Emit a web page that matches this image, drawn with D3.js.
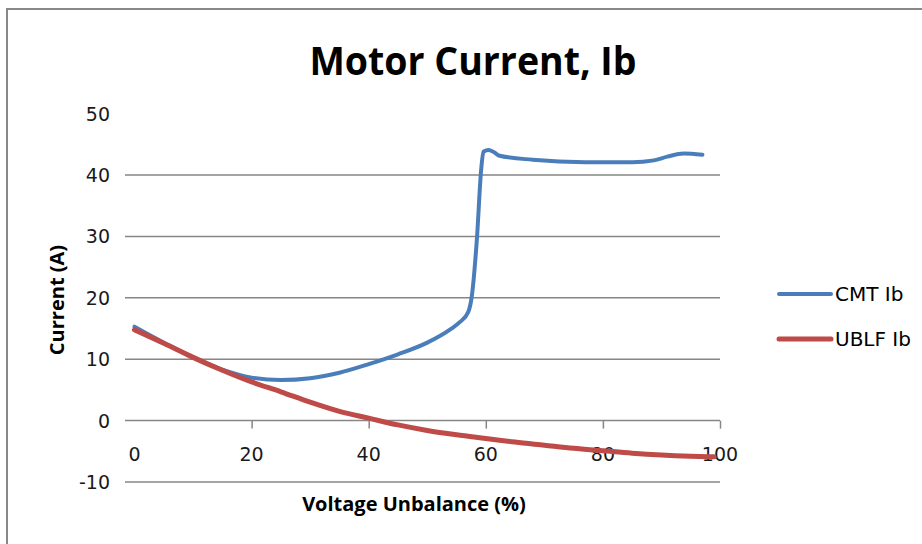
<!DOCTYPE html>
<html>
<head>
<meta charset="utf-8">
<script src="https://cdn.jsdelivr.net/npm/d3@7"></script>
<style>
  body { margin: 0; background: #fff; }
  svg { display: block; }
</style>
</head>
<body>
<div id="chart"></div>
<script>
// CMT Ib (blue)
const cmtX = [0, 5, 10, 15, 20, 25, 30, 35, 40, 45, 50, 54, 55.5, 57, 57.6, 58.5, 59.2, 59.6, 60.5, 61.6, 62.2, 68, 77, 85, 88.7, 91, 93.8, 97];
const cmtY = [15.3, 12.7, 10.3, 8.3, 7.0, 6.6, 6.9, 7.8, 9.2, 10.8, 12.7, 14.9, 16.0, 17.7, 20.2, 29.9, 40.8, 43.8, 44.1, 43.6, 43.2, 42.5, 42.1, 42.1, 42.4, 43.0, 43.5, 43.3];
// UBLF Ib (red)
const ublfX = [0, 5, 10, 15, 20, 25, 30, 35, 40, 45, 50, 55, 60, 65, 70, 75, 80, 85, 90, 95, 99];
const ublfY = [14.8, 12.6, 10.3, 8.2, 6.3, 4.7, 3.0, 1.5, 0.4, -0.7, -1.6, -2.3, -2.9, -3.5, -4.0, -4.5, -4.9, -5.3, -5.6, -5.8, -5.9];

const xTicks = [0, 20, 40, 60, 80, 100];
const yTicks = [-10, 0, 10, 20, 30, 40, 50];
const yGrid = [-10, 0, 10, 20, 30, 40];
const seriesNames = ["CMT Ib", "UBLF Ib"];
const seriesColors = ["#4a7ebb", "#be4b48"];

const width = 922, height = 544;
const plotLeft = 125, plotRight = 720;

const svg = d3.select("#chart").append("svg")
    .attr("width", width)
    .attr("height", height);

// chart border
svg.append("rect")
    .attr("x", 7).attr("y", 9)
    .attr("width", 940).attr("height", 560)
    .attr("fill", "none")
    .attr("stroke", "#898989")
    .attr("stroke-width", 2);

const x = d3.scaleLinear().domain([0, 100]).range([134.5, 720]);
const y = d3.scaleLinear().domain([-10, 50]).range([482, 113.7]);

// gridlines
svg.append("g")
    .selectAll("line")
    .data(yGrid)
    .enter().append("line")
    .attr("x1", plotLeft).attr("x2", plotRight)
    .attr("y1", d => y(d)).attr("y2", d => y(d))
    .attr("stroke", "#868686")
    .attr("stroke-width", 1.5);

// y labels
svg.append("g")
    .selectAll("text")
    .data(yTicks)
    .enter().append("text")
    .attr("x", 110)
    .attr("y", d => y(d) + 7)
    .attr("text-anchor", "end")
    .style("font-family", "DejaVu Sans")
    .style("font-size", "19px")
    .style("fill", "#1a1a1a")
    .text(d => d);

// x axis ticks (on the zero line)
const xAxis = d3.axisBottom(x)
    .tickValues(xTicks.slice(1))
    .tickSize(8)
    .tickFormat("");
const gx = svg.append("g")
    .attr("transform", `translate(0,${y(0)})`)
    .call(xAxis);
gx.select(".domain").remove();
gx.selectAll("line").attr("stroke", "#868686").attr("stroke-width", 1.5);

// x labels
svg.append("g")
    .selectAll("text")
    .data(xTicks)
    .enter().append("text")
    .attr("x", d => x(d))
    .attr("y", y(0) + 40)
    .attr("text-anchor", "middle")
    .style("font-family", "DejaVu Sans")
    .style("font-size", "19px")
    .style("fill", "#1a1a1a")
    .text(d => d);

// lines
const line = d3.line()
    .x(d => x(d[0]))
    .y(d => y(d[1]))
    .curve(d3.curveMonotoneX);

svg.append("path")
    .datum(cmtX.map((v, i) => [v, cmtY[i]]))
    .attr("d", line)
    .attr("fill", "none")
    .attr("stroke", seriesColors[0])
    .attr("stroke-width", 4)
    .attr("stroke-linecap", "round")
    .attr("stroke-linejoin", "round");

svg.append("path")
    .datum(ublfX.map((v, i) => [v, ublfY[i]]))
    .attr("d", line)
    .attr("fill", "none")
    .attr("stroke", seriesColors[1])
    .attr("stroke-width", 5)
    .attr("stroke-linecap", "round")
    .attr("stroke-linejoin", "round");

// title
svg.append("text")
    .attr("x", 473)
    .attr("y", 75)
    .attr("text-anchor", "middle")
    .attr("textLength", 327)
    .attr("lengthAdjust", "spacingAndGlyphs")
    .style("font-family", "Open Sans")
    .style("font-weight", "bold")
    .style("font-size", "40px")
    .style("fill", "#000")
    .text("Motor Current, Ib");

// axis titles
svg.append("text")
    .attr("transform", "translate(64,300) rotate(-90)")
    .attr("text-anchor", "middle")
    .style("font-family", "Open Sans")
    .style("font-weight", "bold")
    .style("font-size", "20px")
    .style("fill", "#000")
    .text("Current (A)");

svg.append("text")
    .attr("x", 414)
    .attr("y", 511)
    .attr("text-anchor", "middle")
    .style("font-family", "Open Sans")
    .style("font-weight", "bold")
    .style("font-size", "20px")
    .style("fill", "#000")
    .text("Voltage Unbalance (%)");

// legend
const legend = svg.append("g");
seriesNames.forEach((name, i) => {
    const ly = 294 + i * 45;
    legend.append("line")
        .attr("x1", 779).attr("x2", 831)
        .attr("y1", ly).attr("y2", ly)
        .attr("stroke", seriesColors[i])
        .attr("stroke-width", i === 0 ? 4 : 5)
        .attr("stroke-linecap", "round");
    legend.append("text")
        .attr("x", 835)
        .attr("y", ly + 7)
        .style("font-family", "DejaVu Sans")
        .style("font-size", "20px")
        .style("fill", "#000")
        .text(name);
});
</script>
</body>
</html>
